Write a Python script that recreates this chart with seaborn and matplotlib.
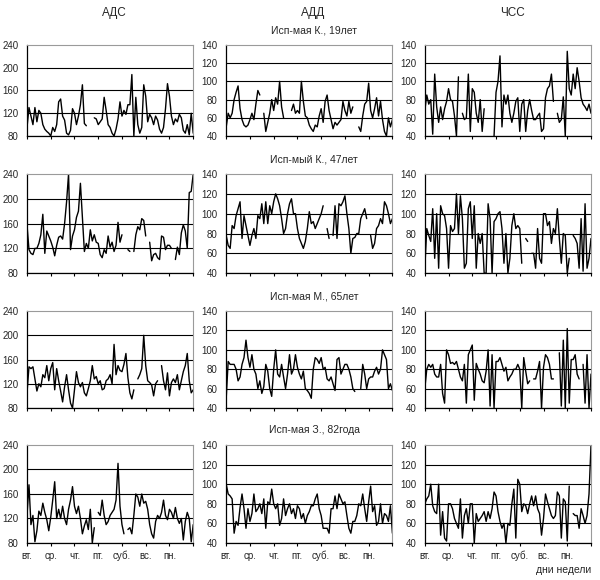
import numpy as np
import pandas as pd
import matplotlib
matplotlib.use("Agg")
import matplotlib.pyplot as plt
import seaborn as sns

nan = np.nan

measures = ["АДС", "АДД", "ЧСС"]
subjects = ["Исп-мая К., 19лет", "Исп-мый К., 47лет", "Исп-мая М., 65лет", "Исп-мая З., 82года"]
day_labels = ["вт.", "ср.", "чт.", "пт.", "суб.", "вс.", "пн."]
ads_ticks = [80, 120, 160, 200, 240]
add_ticks = [40, 60, 80, 100, 120, 140]

# readings every 2 hours over one week (85 samples), nan = no data
ads_k19 = [95, 130, 115, 100, 130, 105, 125, 120, 100, 92, 88, 85, 80, 95, 88, 100, 140, 145, 115, 108,
           85, 82, 90, 128, 120, 100, 115, 135, 170, 102, 98, nan, nan, nan, 112, 110, 100, 105, 110, 148,
           125, 100, 95, 85, 80, 92, 110, 140, 115, 125, 118, 135, 135, 188, 80, 148, 100, 85, 95, 170,
           150, 105, 118, 112, 100, 115, 108, 92, 85, 95, 128, 172, 150, 115, 100, 110, 105, 118, 112, 90,
           85, 100, 82, 120, 85]
add_k19 = [50, 65, 60, 65, 80, 88, 95, 70, 58, 52, 50, 52, 58, 65, 58, 75, 90, 85, nan, 65,
           45, 55, 65, 80, 68, 82, 75, 100, 72, 60, nan, nan, nan, 68, 75, 65, 68, 65, 100, 78,
           62, 60, 52, 48, 45, 52, 50, 62, 70, 55, 78, 85, 68, 58, 48, 55, 52, 55, 58, 78,
           68, 62, 78, 65, 72, nan, nan, 50, 45, 62, 75, 78, 98, 68, 60, 70, 82, 62, 78, 58,
           45, 40, 60, 50, 58]
chss_k19 = [68, 85, 75, 80, 42, 108, 72, 55, 72, 58, 70, 78, 92, 80, 78, 62, 40, 105, nan, 65,
            58, 60, 108, 45, 92, 88, 65, 55, 80, 45, 70, nan, nan, nan, nan, 40, 88, 100, 128, 50,
            85, 75, 85, 65, 55, 65, 78, 82, 45, 75, 80, 45, 68, 80, 68, 58, 58, 62, 65, 45,
            48, 82, 92, 95, 108, 78, nan, 65, 55, 58, 83, 40, 133, 92, 85, 108, 92, 115, 100, 82,
            75, 72, 68, 75, 65]

ads_k47 = [158, 118, 112, 110, 120, 120, 128, 142, 175, 112, 148, 140, 132, 122, 108, 125, 138, 140, 135, 160,
           195, 240, 118, 140, 150, 170, 180, 225, 170, 115, 128, 120, 150, 132, 142, 130, 128, 110, 105, 118,
           112, 140, 122, 130, 115, 125, 162, 130, 142, nan, nan, 118, 115, nan, 115, 142, 155, 150, 168, 165,
           140, nan, 130, 100, 110, 112, 105, 102, 140, 138, 118, 125, 125, 120, nan, 102, 122, 110, 145, 158,
           148, 120, 210, 212, 240]
add_k47 = [78, 68, 65, 88, 85, 98, 105, 112, 75, 98, 88, 78, 68, 78, 85, 75, 98, 95, 110, 90,
           112, 90, 108, 100, 112, 120, 115, 108, 95, 80, 85, 100, 110, 115, 100, 100, 85, 75, 70, 65,
           72, 85, 102, 90, 92, 85, 90, 95, 100, 108, nan, 85, 75, nan, 78, 108, 75, 110, 108, 112,
           118, 100, 85, 60, 75, 76, 80, 80, 95, 100, 105, 95, nan, 78, 65, 70, 85, 88, 95, 90,
           112, 108, 100, 90, 95]
chss_k47 = [45, 85, 78, 72, 105, 55, 100, 45, 108, 100, 98, 85, 45, 88, 82, 85, 120, 80, 118, 95,
            45, 50, 105, 112, 75, 108, 45, 80, 70, 80, 40, 40, 110, 95, 40, 92, 95, 100, 102, 85,
            50, 80, 40, 55, 88, 100, 85, 88, 85, 50, nan, 75, 72, nan, 60, 60, 45, 85, 55, 50,
            100, 100, 88, 92, 70, 85, 80, 105, 75, 50, 80, 78, 40, 55, nan, 78, 75, 70, 45, 95,
            42, 110, 45, 55, 75]

ads_m65 = [105, 148, 145, 148, 128, 108, 120, 115, 135, 130, 150, 125, 145, 155, 110, 145, 125, 108, 90, 115,
           135, 110, 88, 80, 110, 140, 122, 115, 122, 105, 100, 112, 125, 150, 128, 132, 120, 125, 110, 112,
           125, 128, 135, 120, 185, 135, 150, 142, 140, 152, 170, 130, 105, 95, 110, nan, 128, 135, 145, 200,
           150, 125, 122, 118, 100, 120, 125, nan, 150, 125, 110, 138, 100, 122, 128, 122, 135, 110, 125, 140,
           150, 170, 125, 105, 110]
add_m65 = [50, 88, 85, 85, 85, 80, 68, 72, 85, 92, 110, 92, 82, 95, 80, 75, 60, 68, 55, 62,
           85, 78, 60, 52, 80, 100, 75, 72, 85, 72, 60, 75, 95, 75, 80, 95, 82, 75, 70, 78,
           60, 58, 55, 50, 80, 92, 90, 86, 92, 80, 82, 70, 68, 72, 65, 58, 90, 92, 75, 80,
           85, 85, 80, 72, 60, 57, nan, nan, 60, 85, 75, 60, 70, 72, 72, 78, 82, 75, 80, 100,
           95, 90, 60, 65, 58]
chss_m65 = [60, 80, 85, 82, 85, 75, 72, 72, 85, 55, 45, 100, 95, 86, 87, 85, 88, 80, 72, 68,
            85, 45, 95, 100, 105, 48, 86, 80, 75, 68, 66, 78, 100, 42, 95, 40, 88, 88, 92, 85,
            78, 82, 68, 72, 75, 80, 80, 85, 80, 40, 92, 78, 65, 68, nan, 70, 70, 78, 88, 40,
            82, 95, 92, 85, 70, 70, nan, nan, 97, 42, 110, 40, 122, 45, 90, 90, 95, 75, 70, nan,
            85, 45, 95, 40, 75]

ads_z82 = [125, 175, 110, 125, 82, 100, 132, 125, 145, 130, 118, 100, 122, 150, 180, 120, 135, 120, 140, 120,
           110, 135, 150, 172, 140, 128, 140, 120, 95, 108, 118, 102, 135, 80, 105, nan, 130, 125, 150, 125,
           110, 115, 125, 130, 135, 150, 210, 140, 110, 95, nan, 102, 105, 95, 125, 160, 155, 140, 160, 145,
           148, 135, 110, 95, 88, 115, 125, 120, 130, 150, 125, 118, 135, 130, 120, 138, 120, 112, 120, 85,
           115, 130, 120, 82, 110]
add_z82 = [100, 90, 88, 85, 50, 62, 58, 76, 90, 75, 55, 75, 62, 70, 90, 72, 75, 80, 70, 85,
           55, 82, 80, 95, 80, 75, 80, 58, 65, 85, 68, 75, 80, 70, 75, 65, 78, 75, 65, 70,
           60, 68, 72, 78, 78, 85, 90, 75, 68, 55, 55, 55, 50, 75, 75, 88, 75, 90, 85, 80,
           82, 68, 55, 50, 62, 62, 68, 80, 78, 90, 75, 62, 82, 98, 72, 78, 58, 62, 80, 60,
           70, 68, 62, 78, 50]
chss_z82 = [80, 85, 88, 100, 78, 72, 70, 100, 48, 72, 45, 42, 80, 80, 75, 65, 60, 55, 85, 45,
            68, 75, 60, 80, 80, 40, 70, 62, 65, 68, 72, 62, 72, 65, 75, 92, 88, 72, 62, 55,
            60, 40, 60, 58, 80, 95, 45, 105, 100, 72, 80, 78, 70, 80, 88, 78, 88, 75, 70, 48,
            65, 90, 82, 75, 68, 65, 68, 92, 88, 45, 85, 82, 42, 98, nan, 70, 68, 68, 55, 75,
            68, 60, 68, 90, 140]

rows = [[ads_k19, add_k19, chss_k19],
        [ads_k47, add_k47, chss_k47],
        [ads_m65, add_m65, chss_m65],
        [ads_z82, add_z82, chss_z82]]

sns.set_style("white")
plt.rcParams["font.family"] = ["Liberation Sans", "DejaVu Sans"]

fig = plt.figure(figsize=(6, 5.8), dpi=100)

col_left = [0.045, 0.377, 0.708]
col_width = 0.277
row_bottom = [0.7655, 0.529, 0.2966, 0.0638]
row_height = [0.157, 0.171, 0.167, 0.169]

for r, row in enumerate(rows):
    for c, vals in enumerate(row):
        ax = fig.add_axes([col_left[c], row_bottom[r], col_width, row_height[r]])
        n = len(vals)
        df = pd.DataFrame({"t": np.arange(n) * 7 / (n - 1), "v": vals})
        df["seg"] = df["v"].isna().cumsum()
        sns.lineplot(data=df.dropna(), x="t", y="v", units="seg", estimator=None,
                     color="black", linewidth=1.0, ax=ax)
        ticks = ads_ticks if c == 0 else add_ticks
        ax.set_ylim(ticks[0], ticks[-1])
        ax.set_yticks(ticks)
        ax.set_xlim(0, 7)
        ax.set_xticks(range(8))
        if r == 3:
            ax.set_xticklabels(day_labels + [""])
        else:
            ax.set_xticklabels([])
        ax.set_xlabel("")
        ax.set_ylabel("")
        ax.grid(axis="y", color="black", linewidth=0.8)
        ax.get_ygridlines()[-1].set_visible(False)
        ax.tick_params(axis="y", labelsize=7, length=2, pad=4, color="black")
        ax.tick_params(axis="x", labelsize=7, length=2.5, pad=3, direction="out",
                       color="black", bottom=True)
        for side in ["left", "bottom"]:
            ax.spines[side].set_color("black")
            ax.spines[side].set_linewidth(0.9)
        for side in ["top", "right"]:
            ax.spines[side].set_color("#9a9a9a")
            ax.spines[side].set_linewidth(0.8)
        if r == 0:
            fig.text(col_left[c] + col_width / 2 + 0.007, 0.977, measures[c],
                     ha="center", va="center", fontsize=8.5)
    fig.text(col_left[1] + col_width / 2 + 0.008,
             row_bottom[r] + row_height[r] + 0.025, subjects[r],
             ha="center", va="center", fontsize=7.5)

fig.text(col_left[2] + col_width, 0.018, "дни недели", ha="right", va="center", fontsize=7.5)

fig.savefig("out.png", dpi=100)
